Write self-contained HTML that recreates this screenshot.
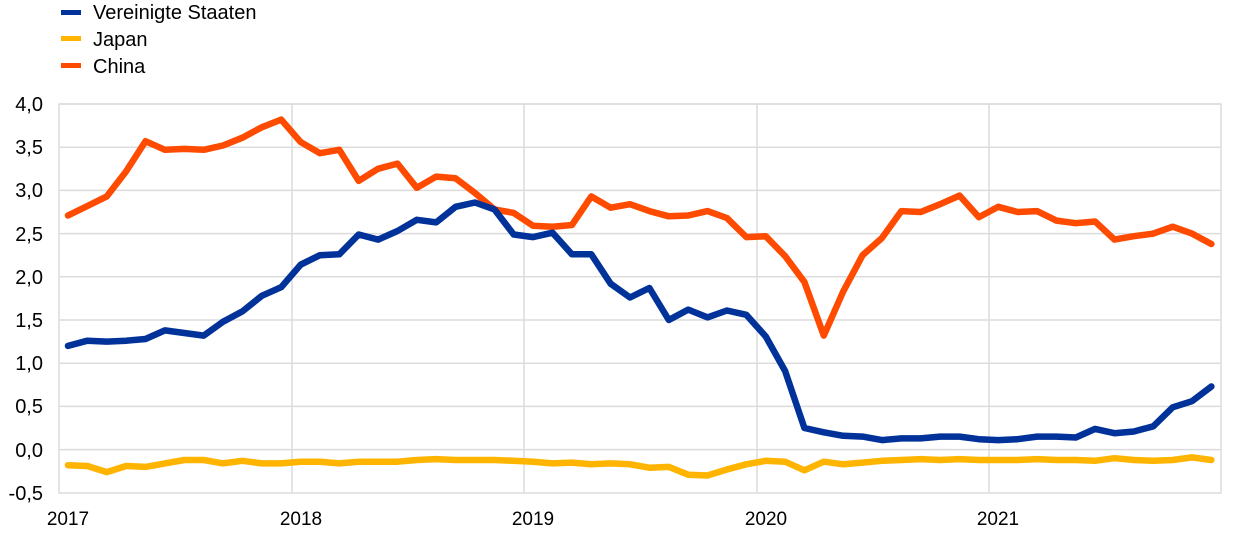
<!DOCTYPE html>
<html><head><meta charset="utf-8"><style>
body{margin:0;background:#fff;}
svg{display:block;font-family:"Liberation Sans",Arial,sans-serif;}
</style></head><body>
<svg id="s" width="1240" height="539" viewBox="0 0 1240 539" xmlns="http://www.w3.org/2000/svg">
<g stroke="#dcdcdc" stroke-width="1.5" fill="none">
<line x1="59" y1="104" x2="1221" y2="104"/><line x1="59" y1="147.2" x2="1221" y2="147.2"/>
<line x1="59" y1="190.4" x2="1221" y2="190.4"/><line x1="59" y1="233.6" x2="1221" y2="233.6"/>
<line x1="59" y1="276.8" x2="1221" y2="276.8"/><line x1="59" y1="320" x2="1221" y2="320"/>
<line x1="59" y1="363.2" x2="1221" y2="363.2"/><line x1="59" y1="406.4" x2="1221" y2="406.4"/>
<line x1="59" y1="449.6" x2="1221" y2="449.6"/>
<line x1="292" y1="104" x2="292" y2="493"/><line x1="524" y1="104" x2="524" y2="493"/>
<line x1="757" y1="104" x2="757" y2="493"/><line x1="989" y1="104" x2="989" y2="493"/>
<rect x="59" y="104" width="1162" height="389"/>
</g>
<g font-size="20" fill="#000" text-anchor="end">
<text x="43" y="111">4,0</text><text x="43" y="154">3,5</text><text x="43" y="197">3,0</text>
<text x="43" y="241">2,5</text><text x="43" y="284">2,0</text><text x="43" y="327">1,5</text>
<text x="43" y="370">1,0</text><text x="43" y="413">0,5</text><text x="43" y="457">0,0</text>
<text x="43" y="500">-0,5</text>
</g>
<g font-size="19" fill="#000" text-anchor="middle">
<text x="68" y="525">2017</text><text x="301" y="525">2018</text><text x="533" y="525">2019</text>
<text x="766" y="525">2020</text><text x="998" y="525">2021</text>
</g>
<g id="lines" fill="none" stroke-width="6.5" stroke-linejoin="round" stroke-linecap="round"></g>
<g font-size="20" fill="#000">
<rect x="61" y="10" width="20" height="5" fill="#003299"/><text x="93" y="19">Vereinigte Staaten</text>
<rect x="61" y="36" width="20" height="5" fill="#FFB400"/><text x="93" y="46">Japan</text>
<rect x="61" y="63" width="20" height="5" fill="#FF4B00"/><text x="93" y="73">China</text>
</g>
</svg>
<script>
var us=[1.20,1.26,1.25,1.26,1.28,1.38,1.35,1.32,1.48,1.60,1.78,1.88,2.14,2.25,2.26,2.49,2.43,2.53,2.66,2.63,2.81,2.86,2.78,2.49,2.46,2.51,2.26,2.26,1.92,1.76,1.87,1.50,1.62,1.53,1.61,1.56,1.31,0.91,0.25,0.20,0.16,0.15,0.11,0.13,0.13,0.15,0.15,0.12,0.11,0.12,0.15,0.15,0.14,0.24,0.19,0.21,0.27,0.49,0.56,0.73];
var jp=[-0.18,-0.19,-0.26,-0.19,-0.20,-0.16,-0.12,-0.12,-0.16,-0.13,-0.16,-0.16,-0.14,-0.14,-0.16,-0.14,-0.14,-0.14,-0.12,-0.11,-0.12,-0.12,-0.12,-0.13,-0.14,-0.16,-0.15,-0.17,-0.16,-0.17,-0.21,-0.20,-0.29,-0.30,-0.23,-0.17,-0.13,-0.14,-0.24,-0.14,-0.17,-0.15,-0.13,-0.12,-0.11,-0.12,-0.11,-0.12,-0.12,-0.12,-0.11,-0.12,-0.12,-0.13,-0.10,-0.12,-0.13,-0.12,-0.09,-0.12];
var cn=[2.71,2.82,2.93,3.22,3.57,3.47,3.48,3.47,3.52,3.61,3.73,3.82,3.56,3.43,3.47,3.11,3.25,3.31,3.03,3.16,3.14,2.97,2.78,2.74,2.59,2.58,2.60,2.93,2.80,2.84,2.76,2.70,2.71,2.76,2.68,2.46,2.47,2.24,1.94,1.32,1.83,2.25,2.45,2.76,2.75,2.84,2.94,2.69,2.81,2.75,2.76,2.65,2.62,2.64,2.43,2.47,2.50,2.58,2.50,2.38];
function pts(a){return a.map(function(v,i){return (68+i*19.38).toFixed(1)+","+(449.6-v*86.4).toFixed(1);}).join(" ");}
var g=document.getElementById("lines"),ns="http://www.w3.org/2000/svg";
[[jp,"#FFB400"],[cn,"#FF4B00"],[us,"#003299"]].forEach(function(d){var p=document.createElementNS(ns,"polyline");p.setAttribute("points",pts(d[0]));p.setAttribute("stroke",d[1]);g.appendChild(p);});
</script>
</body></html>
